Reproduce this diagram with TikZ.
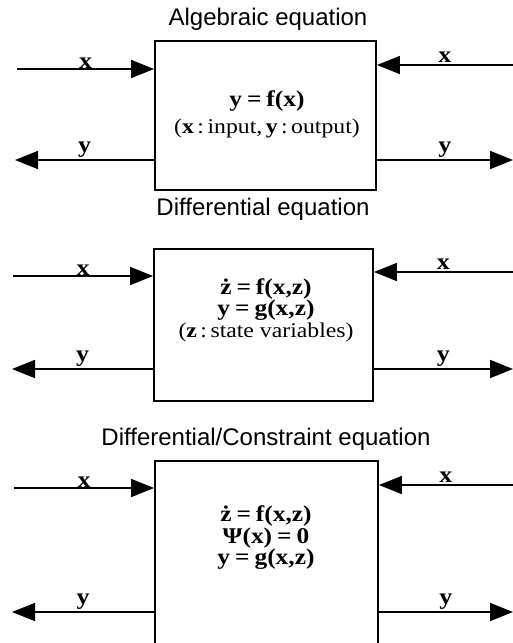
\documentclass[tikz,border=0pt]{standalone}
\usepackage{fontspec}
\setmainfont{Liberation Serif}
\setsansfont{Liberation Sans}
\newfontfamily\eqfont[FakeStretch=1.13]{Liberation Serif}
\newcommand\beq[1]{{\fontsize{22.5}{21.5}\selectfont\bfseries #1}}
\newcommand\eqsign{\hspace{0.22em}=\hspace{0.22em}}
\usetikzlibrary{arrows.meta,positioning}

\begin{document}
\begin{tikzpicture}[x=1pt,y=-1pt,
  model/.style={draw,line width=1.8pt,inner sep=0pt},
  heading/.style={font=\sffamily\fontsize{24}{28}\selectfont,anchor=base},
  eqns/.style={align=center,inner sep=0pt},
  sig/.style={font=\eqfont\bfseries\fontsize{23}{24}\selectfont,inner sep=1.5pt},
  arr/.style={-{Triangle[length=23pt,width=18pt]},line width=1.6pt}
]
\path[use as bounding box,clip] (0,0) rectangle (513,643);

% algebraic block
\node[model,minimum width=221pt,minimum height=149pt] (alg) at (265.5,115.5) {};
\node[heading] (algT) at (268,25) {Algebraic equation};
\node[eqns,font=\eqfont\fontsize{21}{27}\selectfont] (algE) at (267,114)
  {\beq{y\eqsign f(x)}\\(\textbf{x}\,:\,input,\,\textbf{y}\,:\,output)};
\coordinate (algXl) at (17,69);
\coordinate (algXr) at (513,65);
\coordinate (algYl) at (15,160);
\coordinate (algYr) at (513,160);
\draw[arr] (algXl) -- node[sig,above,inner sep=0pt] {x} (algXl -| alg.west);
\draw[arr] (algXr) -- node[sig,above] {x} (algXr -| alg.east);
\draw[arr] (algYl -| alg.west) -- node[sig,above] {y} (algYl);
\draw[arr] (algYr -| alg.east) -- node[sig,above] {y} (algYr);

% differential block
\node[model,minimum width=219pt,minimum height=152pt] (dif) at (263.5,325) {};
\node[heading] (difT) at (263,215) {Differential equation};
\node[eqns,font=\eqfont\fontsize{21}{21.5}\selectfont] (difE) at (266,310)
  {\beq{\.{z}\eqsign f(x,z)}\\\beq{y\eqsign g(x,z)}\\(\textbf{z}\,:\,state variables)};
\coordinate (difXl) at (13,276);
\coordinate (difXr) at (513,272);
\coordinate (difYl) at (12,369);
\coordinate (difYr) at (513,369);
\draw[arr] (difXl) -- node[sig,above,inner sep=0pt] {x} (difXl -| dif.west);
\draw[arr] (difXr) -- node[sig,above] {x} (difXr -| dif.east);
\draw[arr] (difYl -| dif.west) -- node[sig,above] {y} (difYl);
\draw[arr] (difYr -| dif.east) -- node[sig,above] {y} (difYr);

% differential/constraint block
\node[model,minimum width=223pt,minimum height=240pt] (dae) at (266.5,581) {};
\node[heading] (daeT) at (266,445) {Differential/Constraint equation};
\node[eqns,font=\eqfont\fontsize{21}{21.5}\selectfont] (daeE) at (266,538)
  {\beq{\.{z}\eqsign f(x,z)}\\\beq{Ψ(x)\eqsign 0}\\\beq{y\eqsign g(x,z)}};
\coordinate (daeXl) at (14,488);
\coordinate (daeXr) at (513,485);
\coordinate (daeYl) at (12,612);
\coordinate (daeYr) at (513,612);
\draw[arr] (daeXl) -- node[sig,above,inner sep=0pt] {x} (daeXl -| dae.west);
\draw[arr] (daeXr) -- node[sig,above] {x} (daeXr -| dae.east);
\draw[arr] (daeYl -| dae.west) -- node[sig,above] {y} (daeYl);
\draw[arr] (daeYr -| dae.east) -- node[sig,above] {y} (daeYr);
\end{tikzpicture}
\end{document}
